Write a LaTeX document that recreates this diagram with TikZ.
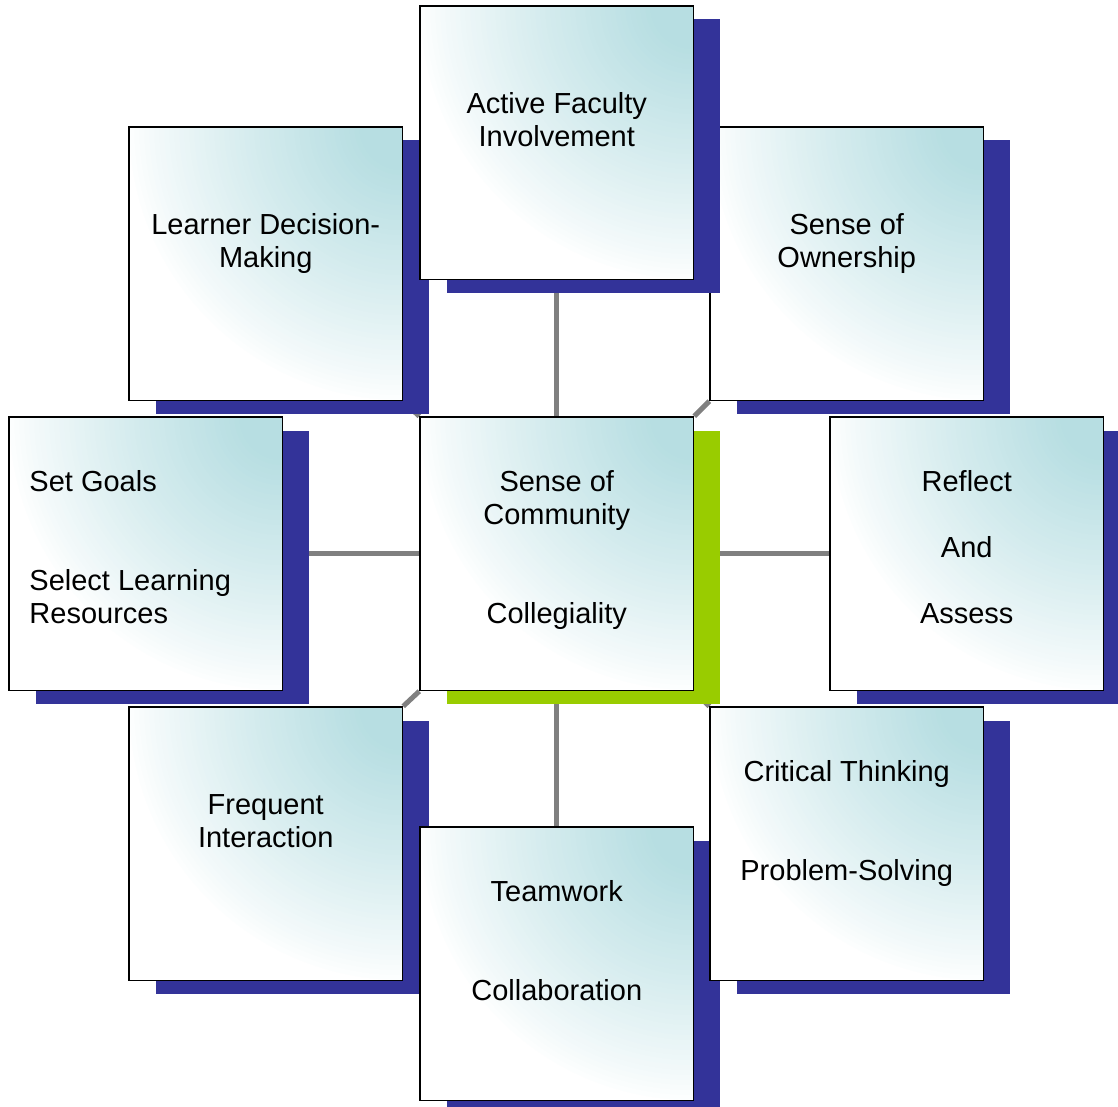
\documentclass[tikz,border=0pt]{standalone}
\usepackage{fontspec}
\setmainfont{Liberation Sans}
\definecolor{boxcyan}{RGB}{183,222,226}
\definecolor{shadowblue}{RGB}{51,51,153}
\definecolor{shadowgreen}{RGB}{153,204,0}
\definecolor{linkgray}{RGB}{128,128,128}
\pgfdeclarelayer{background}
\pgfsetlayers{background,main}

\tikzset{
  % glow fading from the top-right corner, built from concentric discs
  panelbox/.style={rectangle, draw=black, line width=1.5pt, fill=white,
    minimum width=273.5pt, minimum height=273.5pt, inner sep=0pt,
    path picture={
      \foreach \i in {0,...,47}{
        \pgfmathsetmacro\glowr{278-5*\i}
        \pgfmathsetmacro\glowp{100*(\i/47)^0.85}
        \fill[boxcyan!\glowp!white] (path picture bounding box.north east) circle[radius=\glowr pt];
      }
    }},
  paneltext/.style={align=center, inner sep=0pt, font=\fontsize{29}{33}\selectfont},
  link/.style={draw=linkgray, line width=5pt}
}

% #1 name, #2/#3 centre, #4 shadow colour
\newcommand\panel[4]{%
  \fill[#4] (#2-110.25,#3-123.25) rectangle ++(273.5,273.5);
  \node[panelbox] (#1) at (#2,#3) {};
}

\begin{document}
\begin{tikzpicture}[x=1pt,y=-1pt]
\clip (0,0) rectangle (1118,1107);

% panels, later ones overlapping earlier shadows
\panel{O}{846.75}{263.75}{shadowblue}
\panel{L}{265.75}{263.75}{shadowblue}
\panel{A}{556.75}{142.75}{shadowblue}
\panel{G}{145.75}{553.75}{shadowblue}
\panel{C}{556.75}{553.75}{shadowgreen}
\panel{R}{966.75}{553.75}{shadowblue}
\panel{F}{265.75}{843.75}{shadowblue}
\panel{W}{556.75}{963.75}{shadowblue}
\panel{T}{846.75}{843.75}{shadowblue}

% labels
\node[paneltext] (A-text) at ([yshift=3.2pt]A.center) {\strut Active Faculty\\\strut Involvement\\\strut};
\node[paneltext] (L-text) at ([yshift=3.2pt]L.center) {\strut Learner Decision-\\\strut Making\\\strut};
\node[paneltext] (O-text) at ([yshift=3.2pt]O.center) {\strut Sense of\\\strut Ownership\\\strut};
\node[paneltext, align=left, anchor=west] (G-text) at ([xshift=21pt,yshift=3.2pt]G.west) {\strut Set Goals\\\strut\\\strut\\\strut Select Learning\\\strut Resources};
\node[paneltext] (C-text) at ([yshift=3.2pt]C.center) {\strut Sense of\\\strut Community\\\strut\\\strut\\\strut Collegiality};
\node[paneltext] (R-text) at ([yshift=3.2pt]R.center) {\strut Reflect\\\strut\\\strut And\\\strut\\\strut Assess};
\node[paneltext] (F-text) at ([yshift=3.2pt]F.center) {\strut Frequent\\\strut Interaction\\\strut};
\node[paneltext] (T-text) at ([yshift=3.2pt]T.center) {\strut Critical Thinking\\\strut\\\strut\\\strut Problem-Solving\\\strut};
\node[paneltext] (W-text) at ([yshift=3.2pt]W.center) {\strut Teamwork\\\strut\\\strut\\\strut Collaboration\\\strut};

% spokes from the hub, kept behind the panels
\begin{pgfonlayer}{background}
  \draw[link] (C.north) -- (A.south);
  \draw[link] (C.south) -- (W.north);
  \draw[link] (C.west) -- (G.east);
  \draw[link] (C.east) -- (R.west);
  \draw[link] (C.north west) -- (L.south east);
  \draw[link] (C.north east) -- (O.south west);
  \draw[link] (C.south west) -- (F.north east);
  \draw[link] (C.south east) -- (T.north west);
\end{pgfonlayer}
\end{tikzpicture}
\end{document}
